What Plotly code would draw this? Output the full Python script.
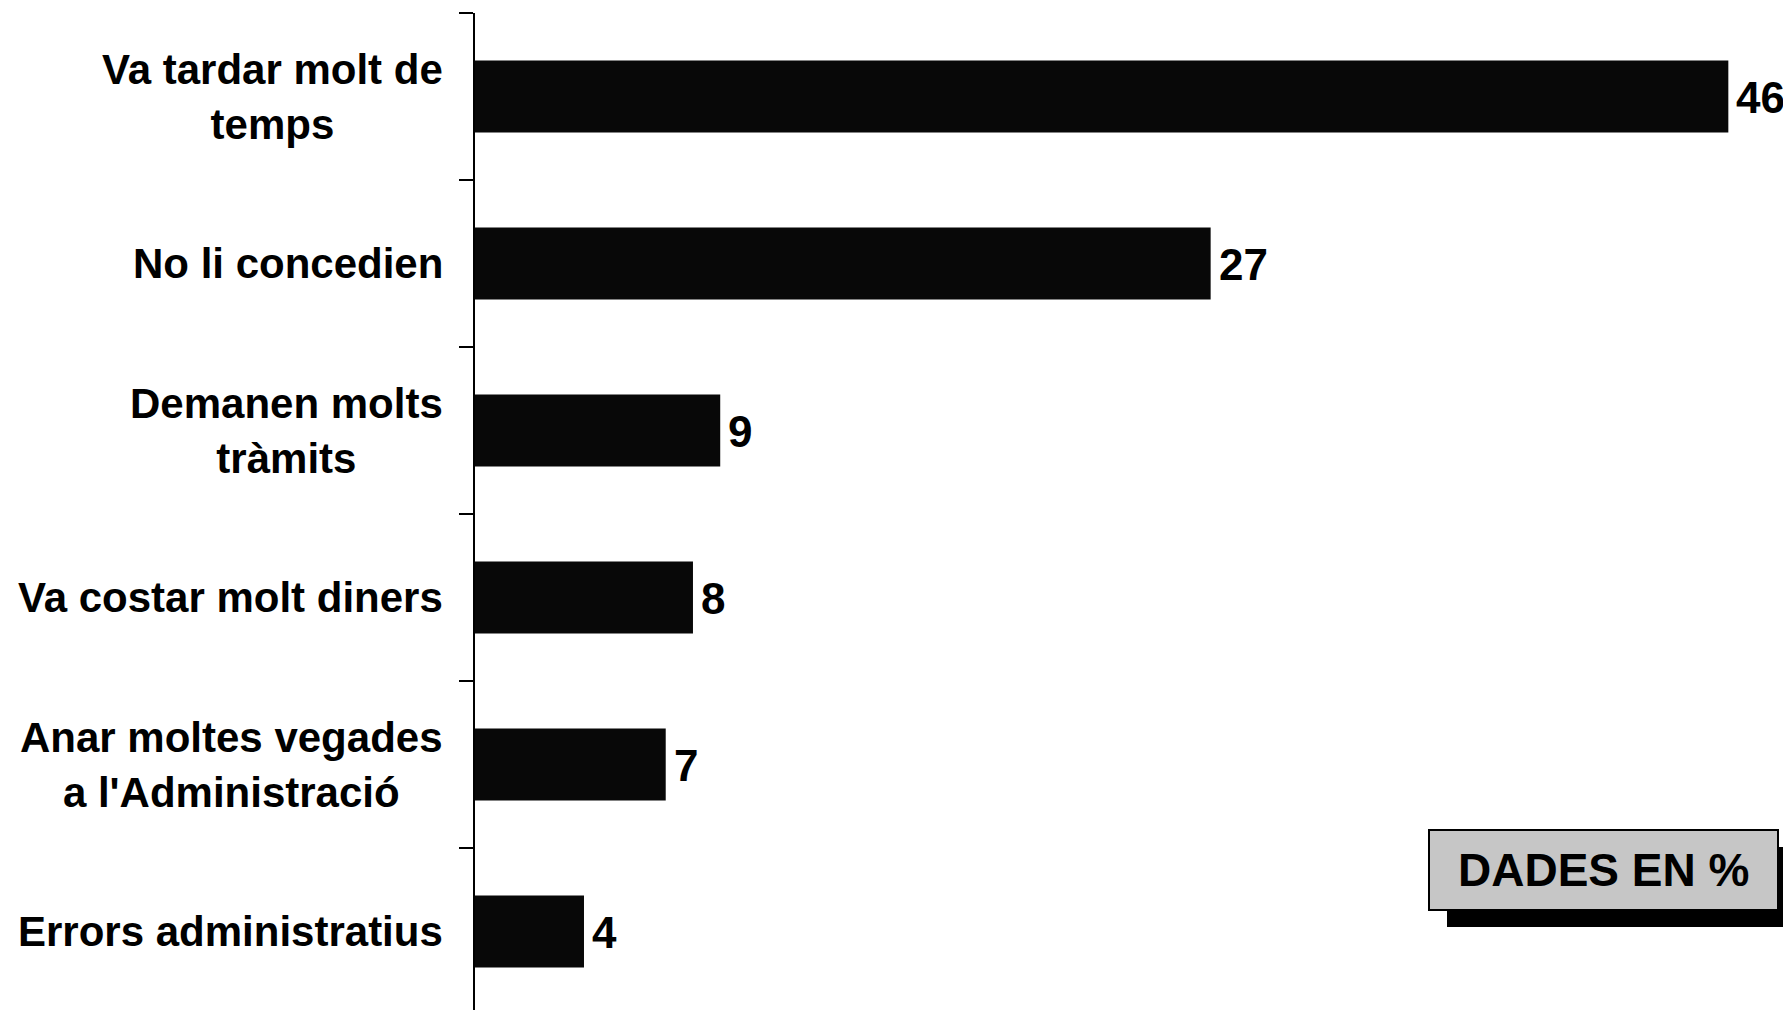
import plotly.graph_objects as go

categories = [
    "Va tardar molt de<br>temps",
    "No li concedien",
    "Demanen molts<br>tràmits",
    "Va costar molt diners",
    "Anar moltes vegades<br>a l'Administració",
    "Errors administratius",
]
values = [46, 27, 9, 8, 7, 4]
badge_text = "DADES EN %"

# the page body has an 8px default margin, so the figure is drawn offset by 8px
OFF = 8
W, H = 1791 - OFF, 1010 - OFF
ML, MT = 475 - OFF, 13 - OFF
PW, PH = W - ML, H - MT

def px_x(p):
    return (p - OFF - ML) / PW

def px_y(p):
    return (H - (p - OFF)) / PH

FONT = "Liberation Sans, Arial, sans-serif"

fig = go.Figure()
fig.add_trace(go.Bar(
    x=values,
    y=categories,
    orientation="h",
    width=0.43,
    marker=dict(color="#080808", line=dict(width=0)),
    hoverinfo="skip",
))

annotations = []
for c in categories:
    annotations.append(dict(
        x=0, xref="paper", y=c, yref="y",
        text=c, showarrow=False, xanchor="right", yanchor="middle",
        align="center", xshift=-30,
        font=dict(family=FONT, size=42, color="black", weight="bold"),
    ))

for c, v in zip(categories, values):
    annotations.append(dict(
        x=v, xref="x", y=c, yref="y",
        text=str(v), showarrow=False, xanchor="left", yanchor="middle",
        xshift=6, yshift=-1,
        font=dict(family=FONT, size=44, color="black", weight="bold"),
    ))

# badge
annotations.append(dict(
    x=px_x(1603), y=px_y(870), xref="paper", yref="paper",
    text=badge_text, showarrow=False, xanchor="center", yanchor="middle",
    font=dict(family=FONT, size=46, color="black", weight="bold"),
))

shapes = [
    dict(type="rect", xref="paper", yref="paper",
         x0=px_x(1447), x1=px_x(1800), y0=px_y(927), y1=px_y(847),
         fillcolor="black", line=dict(width=0), layer="above"),
    dict(type="rect", xref="paper", yref="paper",
         x0=px_x(1429), x1=px_x(1778), y0=px_y(910), y1=px_y(830),
         fillcolor="#c6c6c6", line=dict(color="black", width=2), layer="above"),
]

fig.update_layout(
    width=W, height=H,
    margin=dict(l=ML, r=0, t=MT, b=0, pad=0),
    paper_bgcolor="white", plot_bgcolor="white",
    showlegend=False,
    annotations=annotations,
    shapes=shapes,
    xaxis=dict(range=[0, 48.3], showgrid=False, zeroline=False,
               showticklabels=False, showline=False, ticks=""),
    yaxis=dict(type="category", categoryarray=categories,
               range=[5.47, -0.5], showgrid=False, zeroline=False,
               showticklabels=False, showline=True, linecolor="black",
               linewidth=2, ticks="outside", tickson="boundaries",
               ticklen=14, tickwidth=2, tickcolor="black"),
)

fig.write_html("out.html")
